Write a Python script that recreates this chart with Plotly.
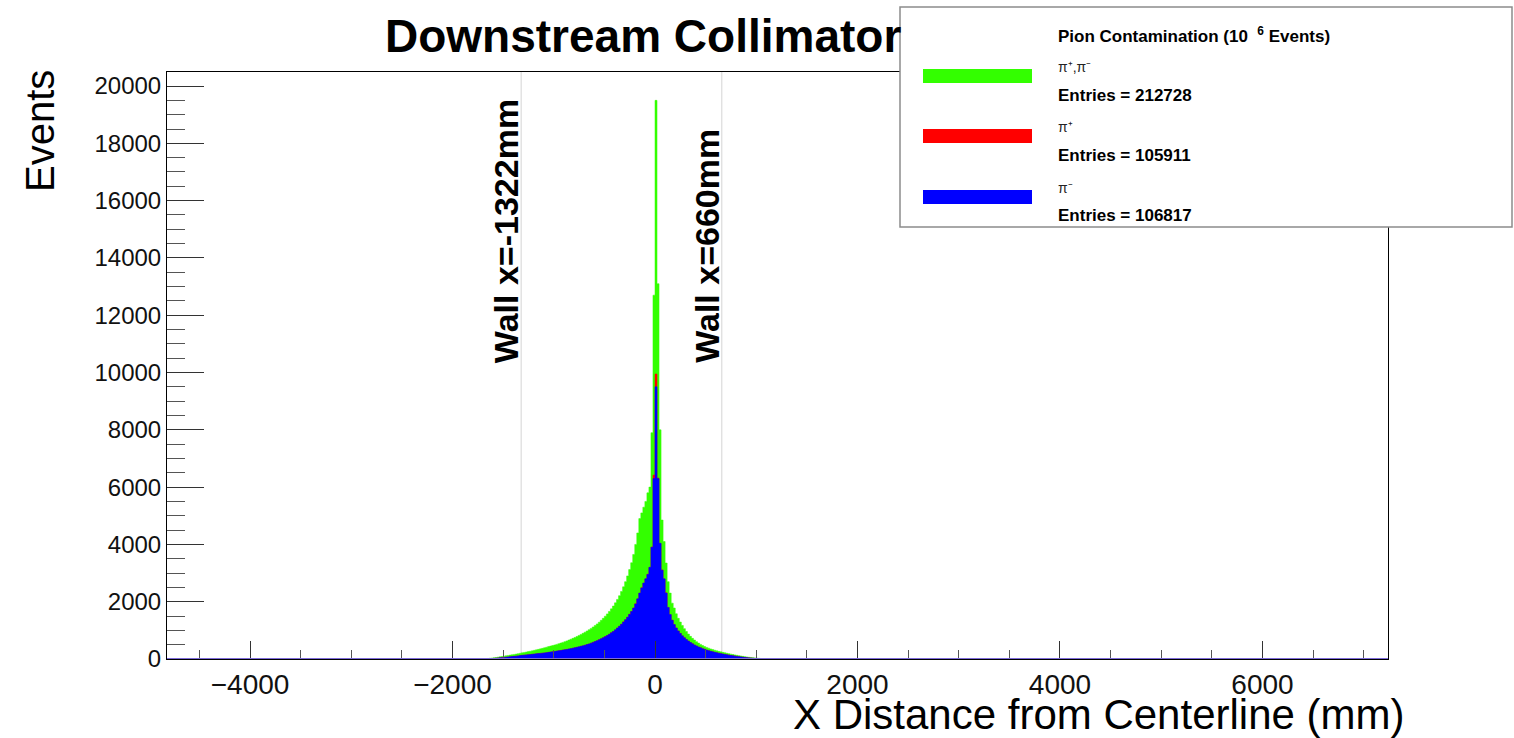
import numpy as np
import plotly.graph_objects as go

# ---------------- data ----------------
BIN_START = -1800   # left edge of first bin (mm)
BIN_W = 20          # bin width (mm)

# pi+ and pi- combined (green)
TOTAL = [
    0, 1, 2, 4, 6, 9, 12, 18, 25, 33,
    42, 52, 63, 75, 88, 100, 112, 124, 136, 148,
    160, 172, 186, 200, 215, 230, 244, 258, 272, 288,
    304, 320, 336, 354, 372, 392, 412, 432, 452, 470,
    490, 510, 532, 556, 580, 606, 632, 660, 690, 720,
    752, 786, 822, 858, 896, 936, 978, 1022, 1068, 1118,
    1170, 1225, 1285, 1350, 1420, 1495, 1575, 1660, 1750, 1850,
    1960, 2080, 2210, 2360, 2520, 2700, 2900, 3120, 3360, 3650,
    4000, 4400, 4900, 5100, 5300, 5500, 5800, 6000, 7900, 12700,
    19500, 13100, 8000, 4850, 4100, 3350, 2700, 2300, 1950, 1780,
    1580, 1420, 1290, 1170, 1060, 960, 870, 790, 720, 660,
    605, 555, 510, 470, 435, 405, 378, 352, 328, 306,
    286, 267, 249, 232, 216, 200, 185, 170, 156, 142,
    129, 116, 104, 92, 81, 70, 60, 51, 43, 35,
    28, 22, 16, 11, 7,
]

# pi+ (red)
PI_PLUS = [
    0, 0, 1, 2, 3, 4, 6, 9, 12, 17,
    21, 26, 33, 40, 48, 54, 60, 69, 75, 84,
    93, 99, 108, 119, 126, 134, 143, 149, 156, 166,
    171, 179, 189, 195, 203, 213, 220, 231, 243, 251,
    263, 276, 285, 296, 311, 320, 333, 349, 360, 375,
    394, 406, 423, 444, 458, 478, 504, 523, 550, 583,
    607, 637, 675, 703, 740, 784, 817, 860, 916, 960,
    1016, 1085, 1140, 1210, 1296, 1368, 1455, 1562, 1655, 1776,
    1930, 2095, 2296, 2490, 2645, 2795, 2960, 3195, 3910, 6420,
    9950, 6320, 4030, 3110, 2790, 2310, 1795, 1545, 1356, 1195,
    1084, 976, 893, 806, 744, 676, 628, 572, 533, 487,
    458, 417, 392, 357, 337, 307, 292, 267, 252, 230,
    218, 198, 188, 170, 160, 144, 135, 120, 112, 99,
    91, 79, 71, 60, 54, 44, 39, 30, 26, 18,
    15, 9, 6, 3, 1,
]

# pi- (blue)
PI_MINUS = [
    0, 0, 1, 2, 3, 4, 6, 9, 12, 16,
    21, 27, 33, 40, 47, 54, 61, 68, 76, 84,
    92, 100, 109, 118, 127, 135, 142, 150, 157, 165,
    172, 180, 188, 196, 204, 212, 222, 232, 242, 253,
    264, 275, 286, 298, 310, 322, 335, 348, 362, 377,
    392, 408, 425, 442, 460, 480, 502, 526, 552, 580,
    610, 640, 672, 706, 742, 780, 820, 864, 912, 964,
    1020, 1080, 1144, 1214, 1290, 1372, 1460, 1555, 1660, 1780,
    1920, 2100, 2300, 2480, 2650, 2800, 2950, 3200, 3900, 6300,
    9500, 6300, 4040, 3100, 2800, 2300, 1800, 1550, 1350, 1200,
    1080, 980, 890, 810, 740, 680, 625, 575, 530, 490,
    455, 420, 390, 360, 335, 310, 290, 270, 250, 232,
    216, 200, 186, 172, 159, 146, 134, 122, 111, 100,
    90, 80, 70, 61, 53, 45, 38, 31, 25, 19,
    14, 10, 6, 3, 1,
]

SERIES_NAMES = ["\u03c0\u207a,\u03c0\u207b", "\u03c0\u207a", "\u03c0\u207b"]
ENTRIES = [212728, 105911, 106817]
WALLS = [-1322, 660]
WALL_LABELS = ["Wall x=-1322mm", "Wall x=660mm"]

TITLE = "Downstream Collimator"
X_TITLE = "X Distance from Centerline (mm)"
Y_TITLE = "Events"
LEGEND_HEADER = "Pion Contamination (10&nbsp;&nbsp;<sup>6</sup>&nbsp;Events)"

# ---------------- styling ----------------
W, H = 1514, 738
ML, MR, MT, MB = 167, 126, 72, 79
PW, PH = W - ML - MR, H - MT - MB
FONT = "Liberation Sans, Arial, Helvetica, sans-serif"
COLORS = ["#33ff00", "#ff0000", "#0000ff"]


def px_x(px):
    return (px - ML) / PW


def px_y(py):
    return (H - MB - py) / PH


fig = go.Figure()

for vals, col, name in zip([TOTAL, PI_PLUS, PI_MINUS], COLORS, SERIES_NAMES):
    n = len(vals)
    edges = BIN_START + BIN_W * np.arange(n + 1)
    yv = list(vals) + [vals[-1]]
    fig.add_trace(go.Scatter(
        x=edges, y=yv, mode="lines", line=dict(shape="hv", width=0.5, color=col),
        fill="tozeroy", fillcolor=col, name=name, showlegend=False, hoverinfo="skip",
    ))

# wall lines
for wx in WALLS:
    fig.add_shape(type="line", xref="x", yref="paper", x0=wx, x1=wx, y0=0, y1=1,
                  line=dict(color="#d4d4d4", width=1), layer="below")

# purple baseline
fig.add_shape(type="line", xref="paper", yref="y", x0=0, x1=1, y0=0, y1=0,
              line=dict(color="#7d6bd9", width=2), layer="above")

annotations = []
for wx, lab in zip(WALLS, WALL_LABELS):
    annotations.append(dict(
        x=wx, xref="x", y=px_y(365), yref="paper", text="<b>%s</b>" % lab,
        textangle=-90, xanchor="right", yanchor="bottom", showarrow=False,
        xshift=6, font=dict(family=FONT, size=34, color="black"),
    ))

# titles
annotations.append(dict(x=px_x(383), y=px_y(36), xref="paper", yref="paper",
                        text="<b>%s</b>" % TITLE, showarrow=False, xanchor="left",
                        yanchor="middle", font=dict(family=FONT, size=46, color="black")))
annotations.append(dict(x=px_x(1406), y=px_y(714), xref="paper", yref="paper",
                        text=X_TITLE, showarrow=False, xanchor="right",
                        yanchor="middle", font=dict(family=FONT, size=42, color="black")))
annotations.append(dict(x=px_x(40), y=px_y(131), xref="paper", yref="paper",
                        text=Y_TITLE, showarrow=False, textangle=-90, xanchor="center",
                        yanchor="middle", font=dict(family=FONT, size=40, color="black")))

# legend box
fig.add_shape(type="rect", xref="paper", yref="paper", x0=px_x(900), x1=px_x(1512),
              y0=px_y(227), y1=px_y(7), fillcolor="white",
              line=dict(color="#8c8c8c", width=1.5), layer="above")
annotations.append(dict(x=px_x(1056), y=px_y(35), xref="paper", yref="paper",
                        text="<b>%s</b>" % LEGEND_HEADER, showarrow=False, xanchor="left",
                        yanchor="middle", font=dict(family=FONT, size=17, color="black")))
sw_centers = [76, 136, 197]
for i, (col, name, ent) in enumerate(zip(COLORS, SERIES_NAMES, ENTRIES)):
    cy = sw_centers[i]
    fig.add_shape(type="rect", xref="paper", yref="paper", x0=px_x(923), x1=px_x(1032),
                  y0=px_y(cy + 7), y1=px_y(cy - 7), fillcolor=col, line=dict(width=0),
                  layer="above")
    annotations.append(dict(x=px_x(1056), y=px_y(cy - 9), xref="paper", yref="paper",
                            text=name, showarrow=False, xanchor="left", yanchor="middle",
                            font=dict(family=FONT, size=14, color="#222")))
    annotations.append(dict(x=px_x(1056), y=px_y(cy + 19), xref="paper", yref="paper",
                            text="<b>Entries = %d</b>" % ent, showarrow=False,
                            xanchor="left", yanchor="middle",
                            font=dict(family=FONT, size=17, color="black")))

fig.update_layout(
    width=W, height=H, autosize=False,
    margin=dict(l=ML, r=MR, t=MT, b=MB, pad=0),
    paper_bgcolor="white", plot_bgcolor="white",
    showlegend=False, annotations=annotations,
)
fig.update_xaxes(
    range=[-4820, 7240], showgrid=False, zeroline=False,
    showline=True, linecolor="black", linewidth=1, mirror=True,
    ticks="inside", ticklen=18, tickcolor="#333", tickwidth=1,
    dtick=2000, tick0=0, tickformat="d",
    minor=dict(ticks="inside", ticklen=9, dtick=500, tickcolor="#555", showgrid=False),
    tickfont=dict(family=FONT, size=28, color="#111"),
)
fig.update_yaxes(
    range=[0, 20490], showgrid=False, zeroline=False,
    showline=True, linecolor="black", linewidth=1, mirror=True,
    ticks="inside", ticklen=37, tickcolor="#333", tickwidth=1,
    dtick=2000, tick0=0, tickformat="d",
    minor=dict(ticks="inside", ticklen=18, dtick=500, tickcolor="#555", showgrid=False),
    tickfont=dict(family=FONT, size=24, color="#111"),
)

fig.write_html("out.html")
